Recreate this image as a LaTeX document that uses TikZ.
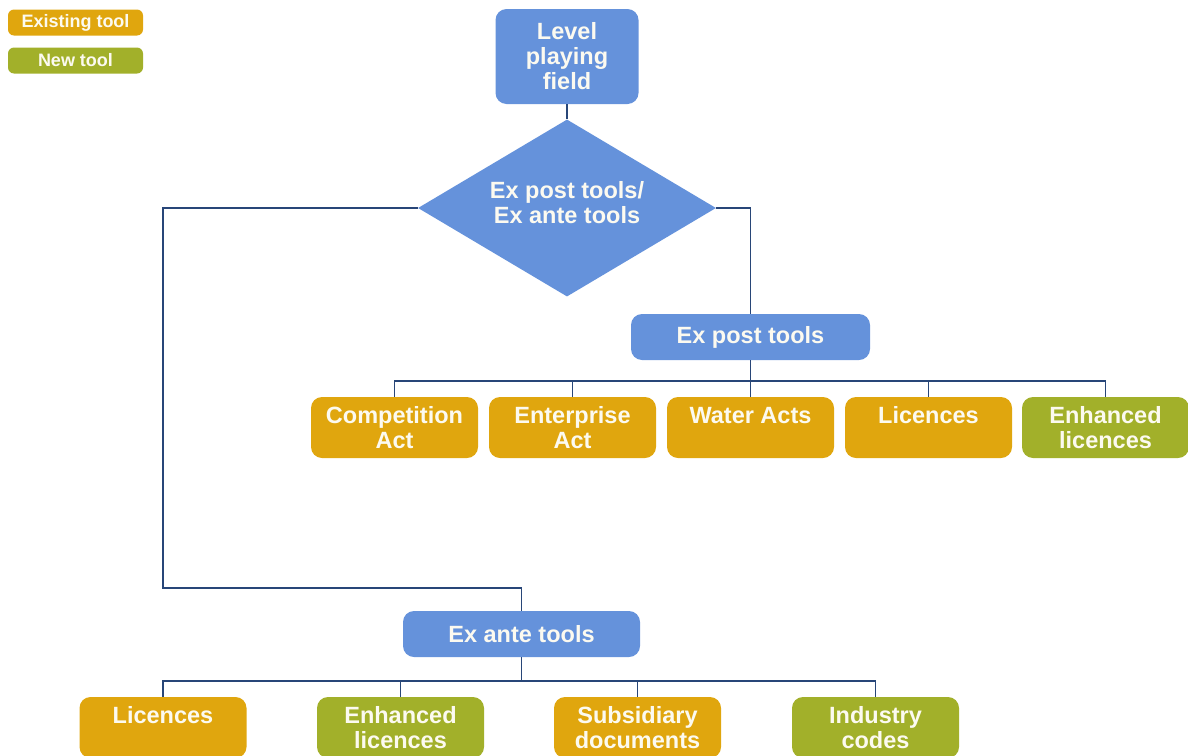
\documentclass[tikz,border=0pt]{standalone}
\usepackage{fontspec}
\setmainfont{Liberation Sans}
\usetikzlibrary{shapes.geometric}
\definecolor{cblue}{RGB}{101,146,219}
\definecolor{corange}{RGB}{224,166,14}
\definecolor{cgreen}{RGB}{162,176,42}
\definecolor{cline}{RGB}{40,70,120}
\definecolor{ctext}{RGB}{252,250,240}
\tikzset{
  base/.style={text=ctext, font=\fontsize{23.5}{25}\selectfont\bfseries, align=center, inner sep=0pt},
  bluebox/.style={base, fill=cblue, rounded corners=11pt},
  toolbox/.style={base, rounded corners=11pt, minimum width=167pt, minimum height=61pt},
  existing/.style={toolbox, fill=corange},
  newtool/.style={toolbox, fill=cgreen},
  legendbox/.style={text=ctext, font=\fontsize{18}{20}\selectfont\bfseries, inner sep=0pt, rounded corners=6pt, minimum width=135pt, minimum height=26pt},
  conn/.style={draw=cline, line width=1.8pt},
}
\begin{document}
\begin{tikzpicture}[x=1pt, y=-1pt]
\useasboundingbox (0,0) rectangle (1188,755);
\clip (0,0) rectangle (1188,755);
% legend
\node[legendbox, fill=corange] (legE) at (75.5,22.5) {Existing tool};
\node[legendbox, fill=cgreen] (legN) at (75.5,60.5) {New tool};
% top
\node[bluebox, minimum width=143pt, minimum height=95pt] (lpf) at (567,56.5) {Level\\playing\\field};
\node[base, shape=diamond, fill=cblue, aspect=1.68, minimum width=298pt, minimum height=177pt] (dia) at (567,208) {Ex post tools/\\Ex ante tools\\[-14pt]};
\node[bluebox, minimum width=239pt, minimum height=46pt] (ep) at (750.5,337) {Ex post tools};
\node[bluebox, minimum width=237pt, minimum height=46pt] (ea) at (521.5,634) {Ex ante tools};
% row 1
\node[existing] (c1) at (394.5,427.5) {Competition\\Act};
\node[existing] (c2) at (572.5,427.5) {Enterprise\\Act};
\node[existing] (c3) at (750.5,427.5) {Water Acts\\\phantom{A}};
\node[existing] (c4) at (928.5,427.5) {Licences\\\phantom{A}};
\node[newtool] (c5) at (1105.5,427.5) {Enhanced\\licences};
% row 2
\node[existing] (d1) at (163,727.5) {Licences\\\phantom{A}};
\node[newtool] (d2) at (400.5,727.5) {Enhanced\\licences};
\node[existing] (d3) at (637.5,727.5) {Subsidiary\\documents};
\node[newtool] (d4) at (875.5,727.5) {Industry\\codes};
% connectors
\coordinate (bendL) at (163,588);
\draw[conn] (lpf.south) -- (dia.north);
\draw[conn] (dia.west) -| (bendL) -| (ea.north);
\draw[conn] (dia.east) -| (ep.north);
\foreach \c in {c1,c2,c3,c4,c5} {\draw[conn] (ep.south) -- ++(0,21) -| (\c.north);}
\foreach \c in {d1,d2,d3,d4} {\draw[conn] (ea.south) -- ++(0,24) -| (\c.north);}
\end{tikzpicture}
\end{document}
